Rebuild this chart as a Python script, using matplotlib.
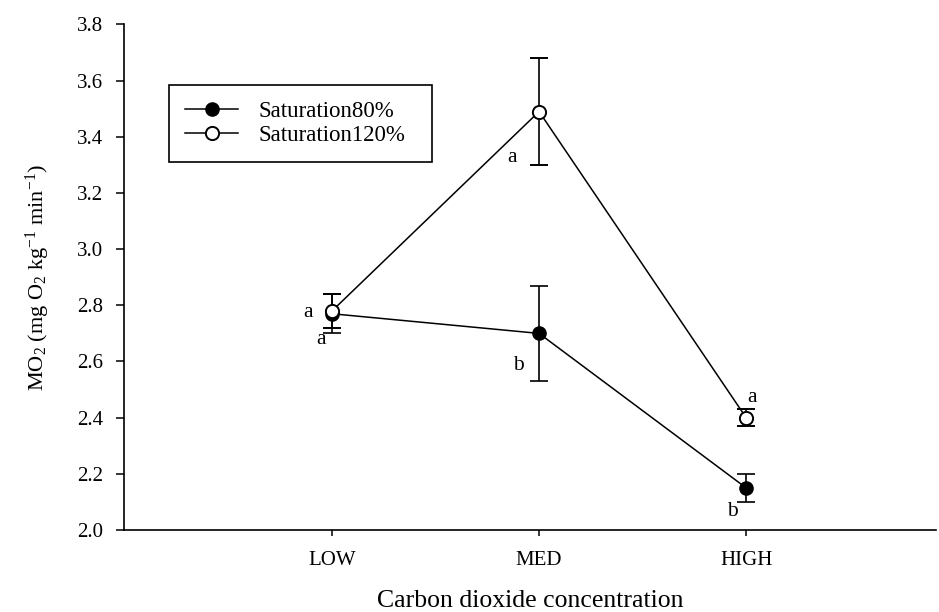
import matplotlib
matplotlib.use("Agg")
import matplotlib.pyplot as plt
from matplotlib.lines import Line2D

plt.rcParams['font.family'] = ['Liberation Serif', 'DejaVu Serif']
plt.rcParams['mathtext.default'] = 'regular'

# oxygen consumption per CO2 level
levels = ["LOW", "MED", "HIGH"]
x = [1, 2, 3]
sat80 = [2.77, 2.70, 2.15]
sat80_err = [0.07, 0.17, 0.05]
sat120 = [2.78, 3.49, 2.40]
sat120_err = [0.06, 0.19, 0.03]
letters80 = ["a", "b", "b"]
letters120 = ["a", "a", "a"]

fig = plt.figure(figsize=(9.39, 6.12), dpi=100)
ax = fig.add_axes([0.132, 0.134, 0.865, 0.826])

ms = 9.5
ax.errorbar(x, sat80, yerr=sat80_err, fmt="-o", color="black", mfc="black",
            mec="black", ms=ms, lw=1.1, elinewidth=1.2, capsize=6.2, capthick=1.2,
            zorder=3)
ax.errorbar(x, sat120, yerr=sat120_err, fmt="-o", color="black", mfc="white",
            mec="black", ms=ms, mew=1.4, lw=1.1, elinewidth=1.2, capsize=6.2,
            capthick=1.2, zorder=4)

# significance letters, offsets in points from each mean (baseline)
off80 = [(-8, -22), (-14.5, -26.5), (-9.5, -20)]
off120 = [(-17, -4.3), (-19.5, -36), (4.3, 11.5)]
for xi, yi, t, o in zip(x, sat80, letters80, off80):
    ax.annotate(t, (xi, yi), xytext=o, textcoords="offset points",
                ha="center", va="baseline", fontsize=15.5)
for xi, yi, t, o in zip(x, sat120, letters120, off120):
    ax.annotate(t, (xi, yi), xytext=o, textcoords="offset points",
                ha="center", va="baseline", fontsize=15.5)

ax.set_xlim(-0.005, 3.918)
ax.set_ylim(2.0, 3.8)
ax.set_xticks(x)
ax.set_xticklabels(levels)
ax.set_yticks([2.0, 2.2, 2.4, 2.6, 2.8, 3.0, 3.2, 3.4, 3.6, 3.8])
ax.set_yticklabels([f"{v:.1f}" for v in ax.get_yticks()])
ax.tick_params(direction="out", width=1.1, labelsize=15)
ax.tick_params(axis="y", length=5.8, pad=9.4)
ax.tick_params(axis="x", length=4.3, pad=11)
for s in ["top", "right"]:
    ax.spines[s].set_visible(False)
for s in ["left", "bottom"]:
    ax.spines[s].set_linewidth(1.2)

ax.set_xlabel("Carbon dioxide concentration", fontsize=18.5, labelpad=14)
ax.set_ylabel("MO$_2$ (mg O$_2$ kg$^{-1}$ min$^{-1}$)", fontsize=16, labelpad=18)

handles = [
    Line2D([], [], color="black", lw=1.1, marker="o", mfc="black", mec="black", ms=ms),
    Line2D([], [], color="black", lw=1.1, marker="o", mfc="white", mec="black",
           ms=ms, mew=1.4),
]
leg = ax.legend(handles, ["Saturation80%", "Saturation120%"], loc="upper left",
                bbox_to_anchor=(0.056, 0.5, 0.3227, 0.380), mode="expand",
                borderaxespad=0, fontsize=16.5,
                frameon=True, fancybox=False, edgecolor="black", framealpha=1,
                borderpad=0.7, handlelength=2.3, handletextpad=0.9,
                labelspacing=0.1)
leg.get_frame().set_linewidth(1.2)

fig.savefig("out.png", dpi=100)
